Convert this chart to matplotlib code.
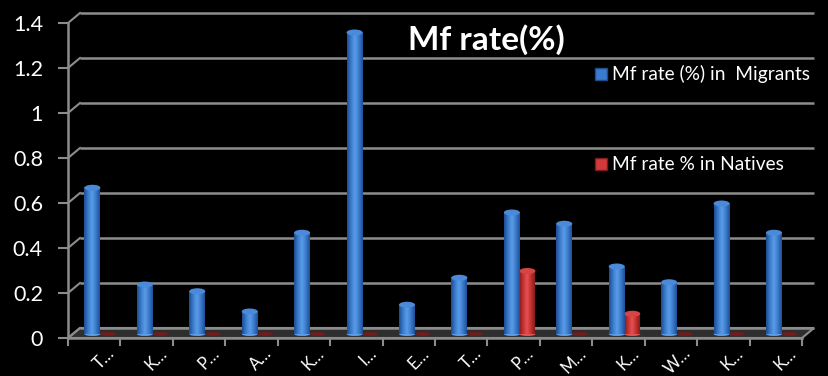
import matplotlib
matplotlib.use('Agg')
import matplotlib.pyplot as plt
import numpy as np
from matplotlib.patches import Ellipse, Polygon, Rectangle
from matplotlib.colors import LinearSegmentedColormap

plt.rcParams['font.family'] = ['Lato', 'DejaVu Sans']

categories = ['T…', 'K…', 'P…', 'A…', 'K…', 'I…', 'E…', 'T…', 'P…', 'M…', 'K…', 'W…', 'K…', 'K…']
migrants = [0.65, 0.22, 0.19, 0.10, 0.45, 1.34, 0.13, 0.25, 0.54, 0.49, 0.30, 0.23, 0.58, 0.45]
natives = [0, 0, 0, 0, 0, 0, 0, 0, 0.28, 0, 0.09, 0, 0, 0]
yticks = [0, 0.2, 0.4, 0.6, 0.8, 1.0, 1.2, 1.4]
ytick_labels = ['0', '0.2', '0.4', '0.6', '0.8', '1', '1.2', '1.4']
series_names = ['Mf rate (%) in  Migrants', 'Mf rate % in Natives']
title = 'Mf rate(%)'

W, H = 829, 376
fig = plt.figure(figsize=(W / 100, H / 100), dpi=100, facecolor='black')
ax = fig.add_axes([68 / W, (H - 338) / H, (802 - 68) / W, (338 - 23) / H])
ax.set_facecolor('none')
n = len(categories)
ax.set_xlim(0, n)
ax.set_ylim(0, 1.4)

pxx = (802 - 68) / n          # pixels per category
pxy = (338 - 23) / 1.4        # pixels per unit value
def ux(p): return p / pxx
def uy(p): return p / pxy

grid_c = '#8c8c8c'
# back-wall offset and bar-row offset
bdx, bdy = ux(12), uy(10)
mdx, mdy = ux(6), uy(4)

# floor
floor = Polygon([[0, 0], [n, 0], [n + bdx, bdy], [bdx, bdy]], closed=True,
                facecolor='#2e2e2e', edgecolor=grid_c, lw=1.5, zorder=1, clip_on=False)
ax.add_patch(floor)

# back wall gridlines and side diagonals
for y in yticks:
    ax.plot([bdx, n + bdx], [y + bdy, y + bdy], color=grid_c, lw=1.8, zorder=1.5, clip_on=False,
            solid_capstyle='butt')
    ax.plot([0, bdx], [y, y + bdy], color=grid_c, lw=1.5, zorder=1.5, clip_on=False)

# front axes
ax.plot([0, 0], [0, 1.4], color=grid_c, lw=1.8, clip_on=False, zorder=2)
ax.plot([0, n], [0, 0], color=grid_c, lw=1.8, clip_on=False, zorder=2)
for s in ax.spines.values():
    s.set_visible(False)
ax.set_xticks([])
ax.set_yticks(yticks)
ax.set_yticklabels(ytick_labels, color='white', fontsize=15.5)
ax.tick_params(axis='y', length=7, width=1.5, color=grid_c, pad=11)
for i in range(n + 1):
    ax.plot([i, i], [0, -uy(7)], color=grid_c, lw=1.5, clip_on=False, zorder=2)

# x labels
for i, lab in enumerate(categories):
    ax.text(i + 0.5 + ux(12), -uy(7), lab, rotation=45, ha='right', va='top',
            rotation_mode='anchor', color='white', fontsize=12, clip_on=False)

blue_cmap = LinearSegmentedColormap.from_list('b', ['#1d4c8f', '#3a7bcd', '#5b9ce8', '#3a7bcd', '#1f4f94'])
red_cmap = LinearSegmentedColormap.from_list('r', ['#7e1a1a', '#c53030', '#e25252', '#c53030', '#841c1c'])
grad = np.linspace(0, 1, 64)[None, :]
bw = ux(16)
off = ux(7.8)

def draw_bar(xc, v, cmap, cap_c, zero_c, z):
    if v <= 0:
        ax.add_patch(Ellipse((xc, mdy), bw, uy(4), facecolor=zero_c, edgecolor='none',
                             zorder=z, clip_on=False))
        return
    ax.imshow(grad, cmap=cmap, extent=(xc - bw / 2, xc + bw / 2, mdy, v + mdy),
              aspect='auto', zorder=z, interpolation='bilinear', clip_on=False)
    ax.add_patch(Ellipse((xc, mdy), bw, uy(4), facecolor=cmap(0.5), edgecolor='none',
                         zorder=z - 0.01, clip_on=False))
    ax.add_patch(Ellipse((xc, v + mdy), bw, uy(6), facecolor=cap_c, edgecolor='none',
                         zorder=z + 0.01, clip_on=False))

for i in range(n):
    c = i + 0.5 + mdx
    draw_bar(c + off, natives[i], red_cmap, '#d84444', '#6e1c1c', 3)
    draw_bar(c - off, migrants[i], blue_cmap, '#4a8ad8', '#1d4c8f', 4)

ax.set_xlim(0, n)
ax.set_ylim(0, 1.4)

# title
fig.text(486 / W, 1 - 40 / H, title, color='white', fontsize=24, fontweight='bold',
         ha='center', va='center')

# legend
leg_items = [(series_names[0], 74, '#3a7bcd', '#1d4c8f'), (series_names[1], 164, '#d03a3a', '#7e1a1a')]
for name, ypx, fc, ec in leg_items:
    fig.patches.append(Rectangle(((595) / W, 1 - (ypx + 6) / H), 12 / W, 12 / H,
                                 transform=fig.transFigure, facecolor=fc, edgecolor=ec, lw=1))
    fig.text(612 / W, 1 - ypx / H, name, color='white', fontsize=13.8, ha='left', va='center')

fig.savefig('out.png', dpi=100, facecolor='black')
